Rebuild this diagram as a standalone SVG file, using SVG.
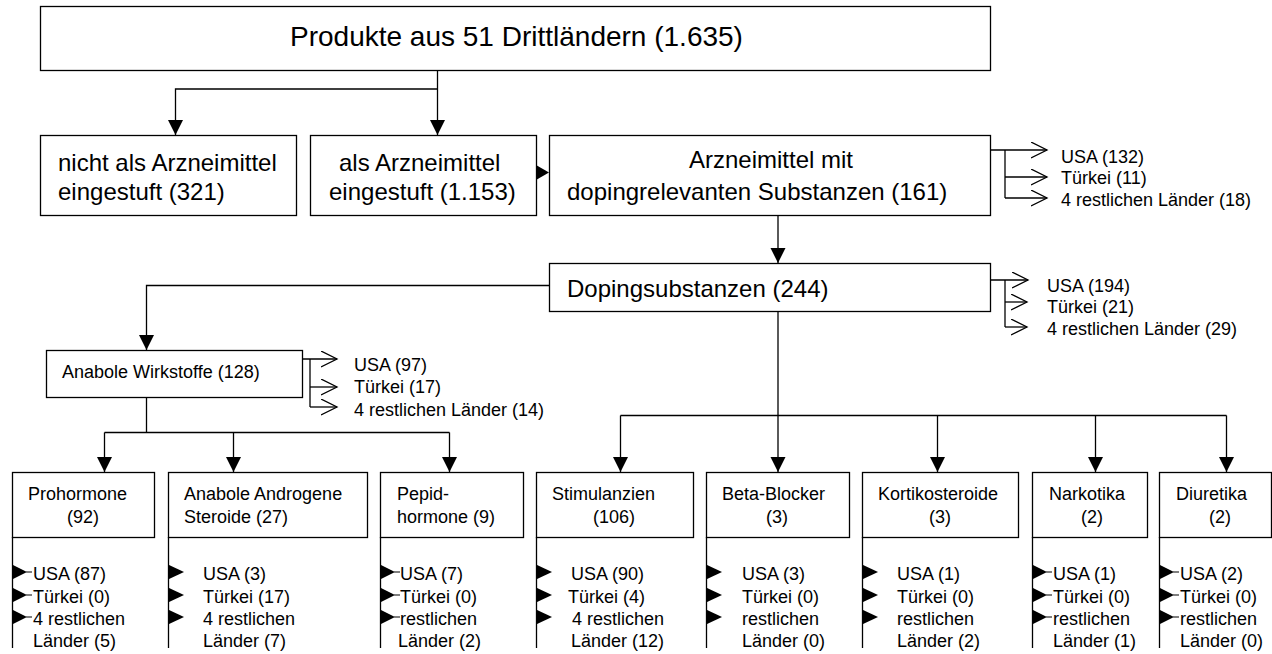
<svg xmlns="http://www.w3.org/2000/svg" xmlns:xlink="http://www.w3.org/1999/xlink" width="1272" height="654" viewBox="0 0 1272 654">
<style>
  .box { fill: #fff; stroke: #000; stroke-width: 1.3; }
  .ln { fill: none; stroke: #000; stroke-width: 1.3; }
  text { font-family: "Liberation Sans", Arial, sans-serif; fill: #000; }
  .t28 { font-size: 28px; }
  .t24 { font-size: 24px; }
  .t18 { font-size: 18px; }
  .mid { text-anchor: middle; }
  .tri { fill: #000; stroke: none; }
</style>
<defs>
  <marker id="ah" markerUnits="userSpaceOnUse" markerWidth="16" markerHeight="16" refX="15" refY="7.5" orient="auto" viewBox="0 0 16 16">
    <path d="M0,0 L15,7.5 L0,15 z" fill="#000"/>
  </marker>
  <marker id="open" markerUnits="userSpaceOnUse" markerWidth="18" markerHeight="18" refX="16" refY="8" orient="auto" viewBox="0 0 18 18">
    <path d="M0,0 L16,8 L0,16" fill="none" stroke="#000" stroke-width="1.3"/>
  </marker>
  <path id="triA" d="M0,-7.5 L15,0 L0,7.5 z M14,-0.6 L20,-0.6 L20,0.6 L14,0.6 z"/>
  <path id="triB" d="M0,-7.5 L16,0 L0,7.5 z"/>
</defs>
<rect width="1272" height="654" fill="#fff"/>

<g id="connectors">
  <path class="ln" d="M437.5,70 V135" marker-end="url(#ah)"/>
  <path class="ln" d="M437.5,89 H175.5 V135" marker-end="url(#ah)"/>
  <polygon class="tri" points="536,165 549,172.5 536,180"/>
  <path class="ln" d="M778,216 V263" marker-end="url(#ah)"/>
  <path class="ln" d="M991,150 H1047" marker-end="url(#open)"/>
  <path class="ln" d="M1005,150 V198"/>
  <path class="ln" d="M1005,177 H1047" marker-end="url(#open)"/>
  <path class="ln" d="M1005,198 H1047" marker-end="url(#open)"/>
  <path class="ln" d="M991,280 H1028" marker-end="url(#open)"/>
  <path class="ln" d="M1005,280 V327"/>
  <path class="ln" d="M1005,302 H1027" marker-end="url(#open)"/>
  <path class="ln" d="M1005,327 H1027" marker-end="url(#open)"/>
  <path class="ln" d="M550,285.5 H146.5 V350" marker-end="url(#ah)"/>
  <path class="ln" d="M295,359 H337" marker-end="url(#open)"/>
  <path class="ln" d="M310,359 V407"/>
  <path class="ln" d="M310,387 H337" marker-end="url(#open)"/>
  <path class="ln" d="M310,407 H337" marker-end="url(#open)"/>
  <path class="ln" d="M146.5,398 V432.5"/>
  <path class="ln" d="M104.5,432.5 H449.5"/>
  <path class="ln" d="M104.5,432.5 V472" marker-end="url(#ah)"/>
  <path class="ln" d="M233.5,432.5 V472" marker-end="url(#ah)"/>
  <path class="ln" d="M449.5,432.5 V472" marker-end="url(#ah)"/>
  <path class="ln" d="M778,312 V472" marker-end="url(#ah)"/>
  <path class="ln" d="M620.5,415.5 H1226.5"/>
  <path class="ln" d="M620.5,415.5 V472" marker-end="url(#ah)"/>
  <path class="ln" d="M937.5,415.5 V472" marker-end="url(#ah)"/>
  <path class="ln" d="M1095.5,415.5 V472" marker-end="url(#ah)"/>
  <path class="ln" d="M1226.5,415.5 V472" marker-end="url(#ah)"/>
</g>

<g id="n-top">
  <rect class="box" x="40.5" y="6.5" width="950" height="64"/>
  <text class="t28" x="290" y="46">Produkte aus 51 Drittländern (1.635)</text>
</g>

<g id="n-nicht">
  <rect class="box" x="40.5" y="135.5" width="256" height="80"/>
  <text class="t24" x="58" y="171">nicht als Arzneimittel</text>
  <text class="t24" x="58" y="200">eingestuft (321)</text>
</g>

<g id="n-als">
  <rect class="box" x="310.5" y="135.5" width="226" height="80"/>
  <text class="t24" x="339" y="171">als Arzneimittel</text>
  <text class="t24" x="329" y="200">eingestuft (1.153)</text>
</g>

<g id="n-arzneimittel">
  <rect class="box" x="549.5" y="135.5" width="441" height="80"/>
  <text class="t24" x="689" y="168">Arzneimittel mit</text>
  <text class="t24" x="567" y="200">dopingrelevanten Substanzen (161)</text>
  <text class="t18" x="1061" y="163">USA (132)</text>
  <text class="t18" x="1061" y="184">Türkei (11)</text>
  <text class="t18" x="1061" y="206">4 restlichen Länder (18)</text>
</g>

<g id="n-doping">
  <rect class="box" x="549.5" y="263.5" width="441" height="48"/>
  <text class="t24" x="567" y="297">Dopingsubstanzen (244)</text>
  <text class="t18" x="1047" y="292">USA (194)</text>
  <text class="t18" x="1047" y="313">Türkei (21)</text>
  <text class="t18" x="1047" y="335">4 restlichen Länder (29)</text>
</g>

<g id="n-anabole">
  <rect class="box" x="46.5" y="350.5" width="256" height="47"/>
  <text class="t18" x="62" y="378">Anabole Wirkstoffe (128)</text>
  <text class="t18" x="354" y="371">USA (97)</text>
  <text class="t18" x="354" y="393">Türkei (17)</text>
  <text class="t18" x="354" y="416">4 restlichen Länder (14)</text>
</g>

<g id="n-prohormone">
  <rect class="box" x="12.5" y="472.5" width="142" height="65"/>
  <path class="ln" d="M12.5,537 V648"/>
  <text class="t18" x="28" y="500">Prohormone</text>
  <text class="t18 mid" x="83" y="523">(92)</text>
  <use xlink:href="#triA" x="12" y="572"/>
  <use xlink:href="#triA" x="12" y="595"/>
  <use xlink:href="#triA" x="12" y="617"/>
  <text class="t18" x="33" y="580">USA (87)</text>
  <text class="t18" x="33" y="603">Türkei (0)</text>
  <text class="t18" x="33" y="625">4 restlichen</text>
  <text class="t18" x="33" y="647">Länder (5)</text>
</g>

<g id="n-aas">
  <rect class="box" x="168.5" y="472.5" width="199" height="65"/>
  <path class="ln" d="M168.5,537 V648"/>
  <text class="t18" x="184" y="500">Anabole Androgene</text>
  <text class="t18" x="184" y="523">Steroide (27)</text>
  <use xlink:href="#triB" x="168" y="572"/>
  <use xlink:href="#triB" x="168" y="595"/>
  <use xlink:href="#triB" x="168" y="617"/>
  <text class="t18" x="203" y="580">USA (3)</text>
  <text class="t18" x="203" y="603">Türkei (17)</text>
  <text class="t18" x="203" y="625">4 restlichen</text>
  <text class="t18" x="203" y="647">Länder (7)</text>
</g>

<g id="n-peptid">
  <rect class="box" x="380.5" y="472.5" width="143" height="65"/>
  <path class="ln" d="M380.5,537 V648"/>
  <text class="t18" x="397" y="500">Pepid-</text>
  <text class="t18" x="397" y="523">hormone (9)</text>
  <use xlink:href="#triA" x="380" y="572"/>
  <use xlink:href="#triA" x="380" y="595"/>
  <use xlink:href="#triA" x="380" y="617"/>
  <text class="t18" x="400" y="580">USA (7)</text>
  <text class="t18" x="400" y="603">Türkei (0)</text>
  <text class="t18" x="400" y="625">restlichen</text>
  <text class="t18" x="398" y="647">Länder (2)</text>
</g>

<g id="n-stimulanzien">
  <rect class="box" x="536.5" y="472.5" width="157" height="65"/>
  <path class="ln" d="M536.5,537 V648"/>
  <text class="t18" x="552" y="500">Stimulanzien</text>
  <text class="t18 mid" x="614" y="523">(106)</text>
  <use xlink:href="#triB" x="536" y="572"/>
  <use xlink:href="#triB" x="536" y="595"/>
  <use xlink:href="#triB" x="536" y="617"/>
  <text class="t18" x="571" y="580">USA (90)</text>
  <text class="t18" x="568" y="603">Türkei (4)</text>
  <text class="t18" x="572" y="625">4 restlichen</text>
  <text class="t18" x="571" y="647">Länder (12)</text>
</g>

<g id="n-betablocker">
  <rect class="box" x="706.5" y="472.5" width="143" height="65"/>
  <path class="ln" d="M706.5,537 V648"/>
  <text class="t18" x="722" y="500">Beta-Blocker</text>
  <text class="t18 mid" x="777" y="523">(3)</text>
  <use xlink:href="#triB" x="706" y="572"/>
  <use xlink:href="#triB" x="706" y="595"/>
  <use xlink:href="#triB" x="706" y="617"/>
  <text class="t18" x="742" y="580">USA (3)</text>
  <text class="t18" x="742" y="603">Türkei (0)</text>
  <text class="t18" x="742" y="625">restlichen</text>
  <text class="t18" x="742" y="647">Länder (0)</text>
</g>

<g id="n-kortikosteroide">
  <rect class="box" x="862.5" y="472.5" width="156" height="65"/>
  <path class="ln" d="M862.5,537 V648"/>
  <text class="t18" x="878" y="500">Kortikosteroide</text>
  <text class="t18 mid" x="940" y="523">(3)</text>
  <use xlink:href="#triB" x="862" y="572"/>
  <use xlink:href="#triB" x="862" y="595"/>
  <use xlink:href="#triB" x="862" y="617"/>
  <text class="t18" x="897" y="580">USA (1)</text>
  <text class="t18" x="897" y="603">Türkei (0)</text>
  <text class="t18" x="897" y="625">restlichen</text>
  <text class="t18" x="897" y="647">Länder (2)</text>
</g>

<g id="n-narkotika">
  <rect class="box" x="1032.5" y="472.5" width="115" height="65"/>
  <path class="ln" d="M1032.5,537 V648"/>
  <text class="t18" x="1049" y="500">Narkotika</text>
  <text class="t18 mid" x="1092" y="523">(2)</text>
  <use xlink:href="#triA" x="1032" y="572"/>
  <use xlink:href="#triA" x="1032" y="595"/>
  <use xlink:href="#triA" x="1032" y="617"/>
  <text class="t18" x="1053" y="580">USA (1)</text>
  <text class="t18" x="1053" y="603">Türkei (0)</text>
  <text class="t18" x="1053" y="625">restlichen</text>
  <text class="t18" x="1053" y="647">Länder (1)</text>
</g>

<g id="n-diuretika">
  <rect class="box" x="1159.5" y="472.5" width="112" height="65"/>
  <path class="ln" d="M1159.5,537 V648"/>
  <text class="t18" x="1176" y="500">Diuretika</text>
  <text class="t18 mid" x="1220" y="523">(2)</text>
  <use xlink:href="#triA" x="1159" y="572"/>
  <use xlink:href="#triA" x="1159" y="595"/>
  <use xlink:href="#triA" x="1159" y="617"/>
  <text class="t18" x="1180" y="580">USA (2)</text>
  <text class="t18" x="1180" y="603">Türkei (0)</text>
  <text class="t18" x="1180" y="625">restlichen</text>
  <text class="t18" x="1180" y="647">Länder (0)</text>
</g>
</svg>
